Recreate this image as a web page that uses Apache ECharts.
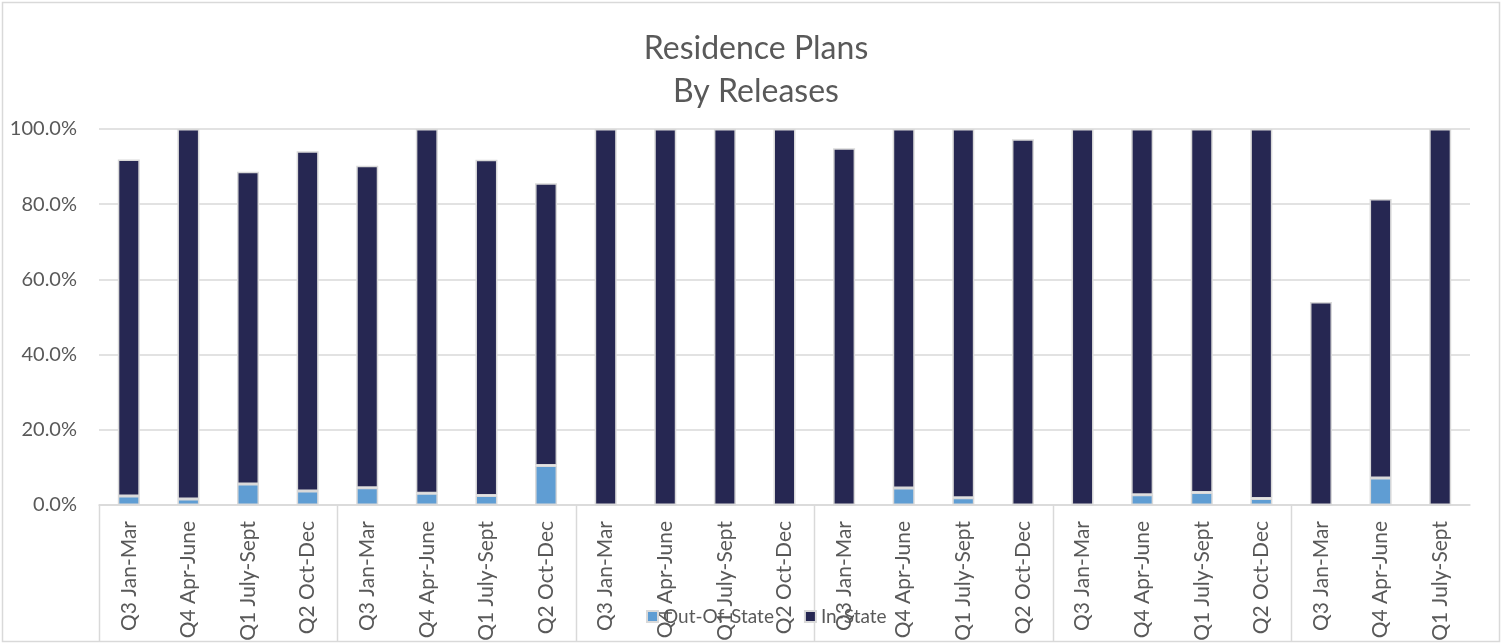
<!DOCTYPE html>
<html>
<head>
<meta charset="utf-8">
<script src="https://cdn.jsdelivr.net/npm/echarts@6/dist/echarts.min.js"></script>
<style>
html,body{margin:0;padding:0;background:#fff;}
#chart{width:1508px;height:644px;}
</style>
</head>
<body>
<div id="chart"></div>
<script>
const categories = [
  'Q3 Jan-Mar','Q4 Apr-June','Q1 July-Sept','Q2 Oct-Dec',
  'Q3 Jan-Mar','Q4 Apr-June','Q1 July-Sept','Q2 Oct-Dec',
  'Q3 Jan-Mar','Q4 Apr-June','Q1 July-Sept','Q2 Oct-Dec',
  'Q3 Jan-Mar','Q4 Apr-June','Q1 July-Sept','Q2 Oct-Dec',
  'Q3 Jan-Mar','Q4 Apr-June','Q1 July-Sept','Q2 Oct-Dec',
  'Q3 Jan-Mar','Q4 Apr-June','Q1 July-Sept'
];
const groupStarts = [0, 4, 8, 12, 16, 20];
const outOfState = [2.4,1.6,5.6,3.7,4.6,3.1,2.5,10.5,0,0,0,0,0,4.5,1.9,0,0,2.7,3.3,1.7,0,7.2,0];
const inState = [89.5,98.4,83.0,90.4,85.6,96.9,89.3,75.1,100,100,100,100,94.9,95.5,98.1,97.3,100,97.3,96.7,98.3,54.0,74.2,100];
const yTicks = [0, 20, 40, 60, 80, 100];

const FONT = 'Lato';
const chart = echarts.init(document.getElementById('chart'));
const option = {
  animation: false,
  backgroundColor: '#fff',
  textStyle: {fontFamily: FONT},
  title: {
    text: 'Residence Plans\nBy Releases',
    left: 751, top: 22, textAlign: 'center',
    textStyle: {fontFamily: FONT, fontSize: 32, fontWeight: 'normal', color: '#595959', lineHeight: 43}
  },
  legend: {
    left: 641, top: 602,
    itemWidth: 11, itemHeight: 11, itemGap: 30,
    icon: 'rect',
    textStyle: {fontFamily: FONT, fontSize: 19, color: '#595959'},
    data: ['Out-Of-State', 'In-State']
  },
  grid: {left: 99, right: 38, top: 129, bottom: 139, containLabel: false},
  xAxis: {
    type: 'category',
    data: categories,
    axisLine: {lineStyle: {color: '#d9d9d9', width: 1.5}},
    axisTick: {show: false},
    axisLabel: {rotate: 90, interval: 0, margin: 16, fontFamily: FONT, fontSize: 21, color: '#595959'}
  },
  yAxis: {
    type: 'value', min: yTicks[0], max: yTicks[yTicks.length - 1], interval: 20,
    axisLine: {show: false}, axisTick: {show: false},
    splitLine: {lineStyle: {color: '#d9d9d9', width: 1.5}},
    axisLabel: {formatter: v => v.toFixed(1) + '%', margin: 22, fontFamily: FONT, fontSize: 20, color: '#595959'}
  },
  series: [
    {name: 'Out-Of-State', type: 'bar', stack: 'a', data: outOfState, barWidth: 22,
     itemStyle: {color: '#5f9dd3', borderColor: '#d9d9d9', borderWidth: 1.5}},
    {name: 'In-State', type: 'bar', stack: 'a', data: inState, barWidth: 22,
     itemStyle: {color: '#262752', borderColor: '#d9d9d9', borderWidth: 1.5}}
  ]
};
chart.setOption(option);

function addGraphics() {
  const px = i => chart.convertToPixel({xAxisIndex: 0}, i);
  const band = px(1) - px(0);
  const y0 = chart.convertToPixel({yAxisIndex: 0}, 0);
  const elements = [{
    type: 'rect', shape: {x: 2.5, y: 2.5, width: 1497, height: 639},
    style: {fill: null, stroke: '#d9d9d9', lineWidth: 1.5}, z: 0, silent: true
  }];
  groupStarts.forEach(i => {
    const x = Math.round(px(i) - band / 2) + 0.5;
    elements.push({
      type: 'line', shape: {x1: x, y1: y0, x2: x, y2: 642},
      style: {stroke: '#d9d9d9', lineWidth: 1.5}, silent: true, z: 1
    });
  });
  chart.setOption({graphic: {elements: elements}});
}
addGraphics();
</script>
</body>
</html>
